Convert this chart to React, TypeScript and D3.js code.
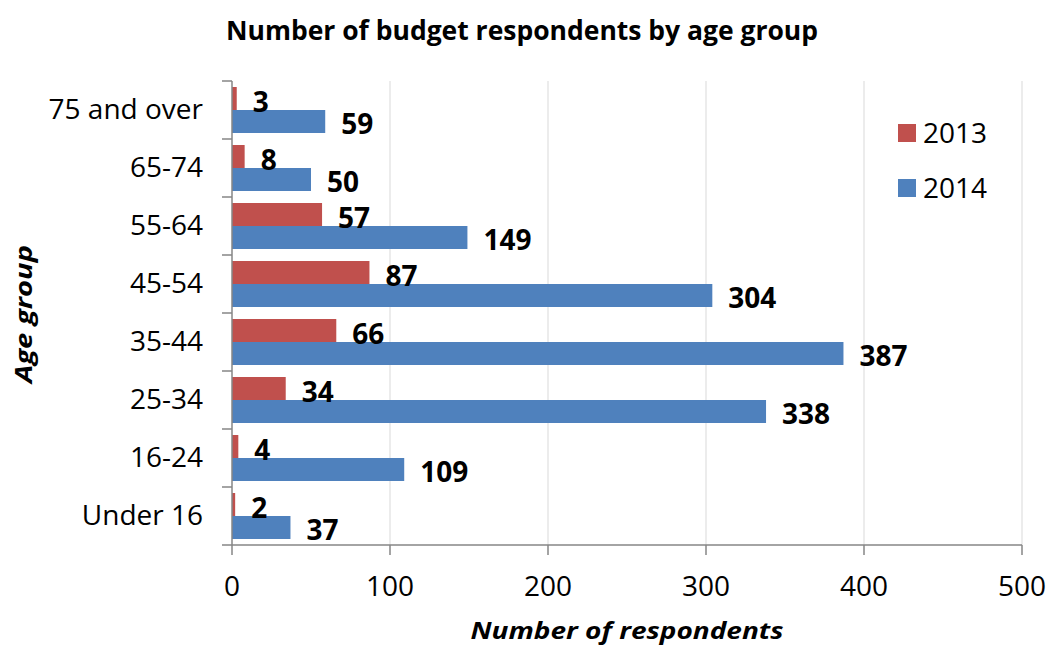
import React from "react";
import * as d3 from "d3";

const categories = ["75 and over", "65-74", "55-64", "45-54", "35-44", "25-34", "16-24", "Under 16"];
const seriesNames = ["2013", "2014"];
const values2013 = [3, 8, 57, 87, 66, 34, 4, 2];
const values2014 = [59, 50, 149, 304, 387, 338, 109, 37];
const xTicks = [0, 100, 200, 300, 400, 500];
const colors = ["#C0504D", "#4F81BD"];

const W = 1048;
const H = 646;
const FONT = "'Open Sans', sans-serif";

export default function App() {
  const x = d3.scaleLinear().domain([0, 500]).range([232, 1022]);
  const y = d3.scaleBand<string>().domain(categories).range([81, 545]).paddingInner(0.207).paddingOuter(0.1035);
  const ys = d3.scaleBand<string>().domain(seriesNames).range([0, y.bandwidth()]);
  const series = [values2013, values2014];
  const boundaries = d3.range(categories.length + 1).map((i) => 81 + (i * (545 - 81)) / categories.length);

  return (
    <svg width={W} height={H} style={{ position: "absolute", left: 0, top: 0, background: "#fff" }} fontFamily={FONT}>
      <rect x={0} y={0} width={W} height={H} fill="#fff" />
      <text x={522} y={40} textAnchor="middle" fontSize={26} fontWeight="bold" fill="#000" textLength={592} lengthAdjust="spacingAndGlyphs">
        Number of budget respondents by age group
      </text>
      {xTicks.slice(1).map((t) => (
        <line key={"g" + t} x1={x(t)} x2={x(t)} y1={81} y2={545} stroke="#d9d9d9" strokeWidth={1} />
      ))}
      {categories.map((c, i) =>
        series.map((vals, s) => (
          <rect
            key={c + s}
            x={x(0)}
            y={(y(c) as number) + (ys(seriesNames[s]) as number)}
            width={x(vals[i]) - x(0)}
            height={ys.bandwidth()}
            fill={colors[s]}
          />
        ))
      )}
      {categories.map((c, i) =>
        series.map((vals, s) => (
          <text
            key={"l" + c + s}
            x={x(vals[i]) + 16}
            y={(y(c) as number) + (ys(seriesNames[s]) as number) + ys.bandwidth() / 2 + 2}
            dominantBaseline="central"
            fontSize={28}
            fontWeight="bold"
            fill="#000"
          >
            {vals[i]}
          </text>
        ))
      )}
      <line x1={232} x2={232} y1={81} y2={545} stroke="#868686" strokeWidth={1.5} />
      {boundaries.map((b, i) => (
        <line key={"yt" + i} x1={222} x2={232} y1={b} y2={b} stroke="#868686" strokeWidth={1.5} />
      ))}
      <line x1={232} x2={1022} y1={545} y2={545} stroke="#868686" strokeWidth={1.5} />
      {xTicks.map((t) => (
        <g key={"xt" + t}>
          <line x1={x(t)} x2={x(t)} y1={545} y2={555} stroke="#868686" strokeWidth={1.5} />
          <text x={x(t)} y={596} textAnchor="middle" fontSize={28} fill="#000">
            {t}
          </text>
        </g>
      ))}
      {categories.map((c) => (
        <text
          key={"yl" + c}
          x={203}
          y={(y(c) as number) + y.bandwidth() / 2 + 9}
          textAnchor="end"
          fontSize={28}
          fill="#000"
        >
          {c}
        </text>
      ))}
      <text x={627} y={639} textAnchor="middle" fontSize={24} fontWeight="bold" fontStyle="italic" fill="#000" textLength={313} lengthAdjust="spacingAndGlyphs">
        Number of respondents
      </text>
      <text
        transform={`translate(32,314) rotate(-90)`}
        textAnchor="middle"
        fontSize={24}
        fontWeight="bold"
        fontStyle="italic"
        fill="#000"
        textLength={138}
        lengthAdjust="spacingAndGlyphs"
      >
        Age group
      </text>
      {seriesNames.map((n, s) => (
        <g key={"lg" + n} transform={`translate(898,${124 + s * 55})`}>
          <rect x={0} y={0} width={18} height={18} fill={colors[s]} />
          <text x={25} y={19} fontSize={28} fill="#000">
            {n}
          </text>
        </g>
      ))}
    </svg>
  );
}
